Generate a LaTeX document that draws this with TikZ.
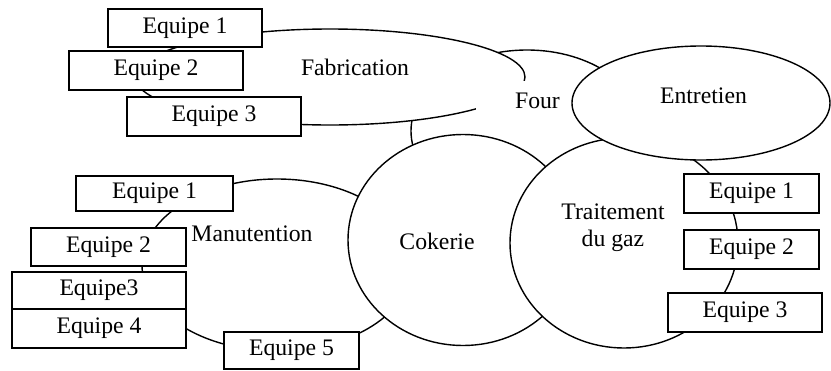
\documentclass[tikz,border=0pt]{standalone}
\usepackage{fontspec}
\setmainfont{Liberation Serif}
\usetikzlibrary{shapes.geometric}
\begin{document}
\begin{tikzpicture}[x=1pt,y=-1pt,
  line width=1.4pt,
  every node/.style={font=\fontsize{23.7}{27}\selectfont},
  blob/.style={ellipse, draw, fill=white, inner sep=0pt},
  team/.style={rectangle, draw, fill=white, inner sep=0pt},
  lbl/.style={inner sep=0pt, anchor=base}]
\useasboundingbox (0,0) rectangle (831,370);

% Four (lowest layer) and Fabrication above it
\node[blob, minimum width=232pt, minimum height=162pt] (four) at (527,131) {};
\node[blob, minimum width=390pt, minimum height=96pt] (fabrication) at (330,77) {};
% white backing of the "Four" label
\fill[white] (476,81) rectangle (570,122);
\node[lbl] (fourtxt) at (537.5,108) {Four};
\node[lbl] (fabtxt) at (355,75) {Fabrication};

% Manutention, Cokerie, Traitement du gaz, Entretien
\node[blob, minimum width=270pt, minimum height=172pt] (manutention) at (277,265) {};
\node[lbl] (mantxt) at (252,241) {Manutention};
\node[blob, minimum width=230pt, minimum height=211pt] (cokerie) at (463,240) {};
\node[lbl] (coktxt) at (437,249) {Cokerie};
\node[blob, minimum width=228pt, minimum height=210pt] (traitement) at (624,243) {};
\node[align=center, inner sep=0pt] (traittxt) at (613,228) {Traitement\\du gaz};
\node[blob, minimum width=258pt, minimum height=114pt] (entretien) at (701,103) {};
\node[lbl] (enttxt) at (703.5,103) {Entretien};

% teams of Fabrication
\node[team, minimum width=154pt, minimum height=38pt] (f1) at (185,28) {Equipe 1};
\node[team, minimum width=174pt, minimum height=39pt] (f2) at (156,70.5) {Equipe 2};
\node[team, minimum width=174pt, minimum height=39pt] (f3) at (214,116.5) {Equipe 3};

% teams of Manutention
\node[team, minimum width=157pt, minimum height=35pt] (m1) at (154.5,193.5) {Equipe 1};
\node[team, minimum width=155pt, minimum height=38pt] (m2) at (108.5,247) {Equipe 2};
\node[team, minimum width=174pt, minimum height=37pt] (m3) at (99,290.5) {Equipe3};
\node[team, minimum width=174pt, minimum height=39pt] (m4) at (99,328.5) {Equipe 4};
\node[team, minimum width=135pt, minimum height=37pt] (m5) at (291.5,350.5) {Equipe 5};

% teams of Traitement du gaz
\node[team, minimum width=135pt, minimum height=39pt] (t1) at (751.5,193.5) {Equipe 1};
\node[team, minimum width=135pt, minimum height=39pt] (t2) at (751.5,249.5) {Equipe 2};
\node[team, minimum width=154pt, minimum height=39pt] (t3) at (745,312.5) {Equipe 3};
\end{tikzpicture}
\end{document}
